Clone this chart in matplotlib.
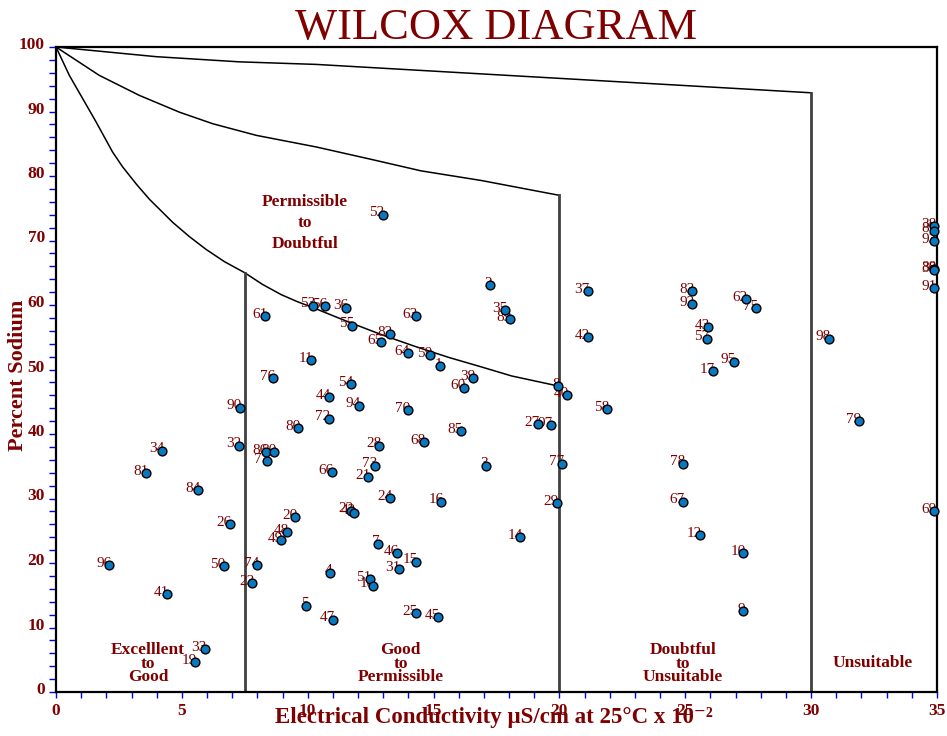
import matplotlib
matplotlib.use("Agg")
import matplotlib.pyplot as plt
import matplotlib.transforms as mtransforms
import numpy as np

# Sample ids, conductivity (uS/cm x 10^-2) and percent sodium
sample_ids = ["34", "81", "84", "26", "96", "50", "41", "33", "19", "32",
              "86", "80", "71", "20", "48", "49", "74", "23", "52", "53",
              "56", "36", "61", "63", "55", "82", "65", "11", "64", "59",
              "1", "39", "60", "76", "54", "44", "94", "90", "70", "72",
              "80", "85", "28", "68", "73", "66", "21", "24", "16", "22",
              "42", "7", "46", "15", "31", "4", "51", "18", "5", "47",
              "25", "45", "2", "35", "89", "37", "42", "8", "40", "58",
              "27", "97", "77", "29", "3", "14", "83", "92", "62", "75",
              "43", "57", "95", "17", "78", "67", "12", "10", "9", "38",
              "87", "93", "88", "30", "91", "98", "79", "69"]
conductivity = [4.22, 3.58, 5.65, 6.91, 2.12, 6.66, 4.40, 5.91, 5.52, 7.28,
                8.33, 8.67, 8.37, 9.50, 9.18, 8.93, 7.99, 7.79, 12.98, 10.20,
                10.70, 11.52, 8.32, 14.30, 11.77, 13.28, 12.90, 10.14, 13.98, 14.86,
                15.26, 16.57, 16.20, 8.63, 11.71, 10.83, 12.04, 7.31, 13.98, 10.83,
                9.63, 16.08, 12.84, 14.62, 12.66, 10.95, 12.41, 13.28, 15.31, 11.73,
                11.83, 12.78, 13.55, 14.30, 13.62, 10.90, 12.46, 12.59, 9.94, 11.02,
                14.30, 15.18, 17.25, 17.84, 18.03, 21.12, 21.12, 19.94, 20.30, 21.88,
                19.14, 19.67, 20.09, 19.90, 17.07, 18.45, 25.28, 25.28, 27.40, 27.80,
                25.90, 25.88, 26.92, 26.10, 24.91, 24.91, 25.59, 27.31, 27.31, 34.9,
                34.9, 34.9, 34.9, 34.9, 34.9, 30.70, 31.90, 34.9]
percent_na = [37.4, 33.9, 31.3, 26.0, 19.7, 19.5, 15.2, 6.6, 4.6, 38.2,
              37.2, 37.2, 35.8, 27.1, 24.8, 23.5, 19.7, 16.9, 74.0, 59.9,
              59.8, 59.6, 58.3, 58.3, 56.8, 55.5, 54.2, 51.4, 52.5, 52.2,
              50.5, 48.7, 47.2, 48.7, 47.7, 45.7, 44.4, 44.1, 43.7, 42.4,
              40.9, 40.4, 38.2, 38.7, 35.1, 34.1, 33.3, 30.1, 29.5, 28.1,
              27.8, 23.0, 21.5, 20.2, 19.0, 18.5, 17.5, 16.5, 13.4, 11.2,
              12.2, 11.6, 63.1, 59.2, 57.8, 62.1, 55.0, 47.4, 46.0, 43.9,
              41.5, 41.4, 35.4, 29.3, 35.1, 24.0, 62.1, 60.1, 60.9, 59.5,
              56.6, 54.8, 51.2, 49.7, 35.4, 29.5, 24.3, 21.5, 12.5, 72.2,
              71.5, 69.9, 65.6, 65.4, 62.6, 54.8, 42.0, 28.0]

# Class boundary curves
upper_x = [0, 3.98, 7.28, 10.34, 30]
upper_y = [100, 98.5, 97.7, 97.3, 92.9]
middle_x = [0, 1.72, 3.31, 4.9, 6.23, 7.96, 10.34, 12.5, 14.5, 16.9, 20]
middle_y = [100, 95.6, 92.5, 89.9, 88.1, 86.3, 84.5, 82.6, 80.8, 79.3, 77.0]
lower_x = [0, 0.53, 1.06, 1.59, 2.25, 2.65, 3.2, 3.71, 4.64, 5.3, 5.97, 6.7,
           7.5, 8.2, 8.95, 9.6, 10.27, 11.6, 12.93, 14.25, 15.58, 16.9, 18.1, 20]
lower_y = [100, 95.6, 92.0, 88.4, 83.7, 81.4, 78.7, 76.4, 72.8, 70.6, 68.6, 66.7,
           65.0, 63.2, 61.6, 60.5, 59.5, 57.4, 55.4, 53.6, 51.9, 50.4, 49.0, 47.4]

# Vertical class dividers: (x, top)
dividers = [(7.5, 65.0), (20, 77.0), (30, 92.9)]

DARKRED = "#7f0000"
SERIF = ["Liberation Serif", "DejaVu Serif"]

fig = plt.figure(figsize=(9.47, 7.36), dpi=100)
ax = fig.add_axes([56 / 947, 44 / 736, 881 / 947, 645 / 736])
ax.set_xlim(0, 35)
ax.set_ylim(0, 100)

ax.plot(upper_x, upper_y, color="black", lw=1.1, zorder=2)
ax.plot(middle_x, middle_y, color="black", lw=1.1, zorder=2)
ax.plot(lower_x, lower_y, color="black", lw=1.1, zorder=2)
for dx, top in dividers:
    ax.plot([dx, dx], [0, top], color="#404040", lw=2.0, zorder=2)

for sid, cx, cy in zip(sample_ids, conductivity, percent_na):
    ax.annotate(sid, (cx, cy), xytext=(1.5, -1.2), textcoords="offset points",
                ha="right", va="baseline", color=DARKRED, fontsize=11,
                family=SERIF, zorder=3, annotation_clip=False)
ax.scatter(conductivity, percent_na, s=40, marker="o", facecolor="#0a78c0",
           edgecolor="black", linewidth=1.0, zorder=4, clip_on=False)

region_kw = dict(color=DARKRED, fontsize=12.5, fontweight="bold", family=SERIF,
                 ha="center", va="center", zorder=3)
ax.text(3.65, 4.4, "Excelllent\nto\nGood", linespacing=0.78, **region_kw)
ax.text(13.7, 4.4, "Good\nto\nPermissible", linespacing=0.78, **region_kw)
ax.text(24.9, 4.4, "Doubtful\nto\nUnsuitable", linespacing=0.78, **region_kw)
ax.text(32.45, 4.5, "Unsuitable", **region_kw)
ax.text(9.9, 72.7, "Permissible\nto\nDoubtful", linespacing=1.4, **region_kw)

# Axes frame and ticks
for side in ["left", "bottom", "top", "right"]:
    ax.spines[side].set_color("black")
    ax.spines[side].set_linewidth(1.6)
ax.set_xticks(np.arange(0, 36, 5))
ax.set_xticks(np.arange(0, 36, 1), minor=True)
ax.set_yticks(np.arange(0, 101, 10))
ax.set_yticks(np.arange(0, 101, 2), minor=True)
ax.tick_params(which="both", direction="out", color="#0000ff", width=1.0)
ax.tick_params(axis="x", which="both", length=4, pad=4)
ax.tick_params(axis="y", which="both", length=5, pad=3)
for lab in ax.get_xticklabels() + ax.get_yticklabels():
    lab.set_family(SERIF)
    lab.set_fontweight("bold")
    lab.set_color(DARKRED)
    lab.set_fontsize(12.5)
lift = mtransforms.ScaledTranslation(0, 2 / 100, fig.dpi_scale_trans)
for lab in ax.get_yticklabels():
    lab.set_verticalalignment("center")
    lab.set_transform(lab.get_transform() + lift)

fig.text(0.524, 0.962, "WILCOX DIAGRAM", color=DARKRED, fontsize=32,
         family=SERIF, ha="center", va="center")
fig.text(0.019, 0.49, "Percent Sodium", color=DARKRED, fontsize=16,
         fontweight="bold", family=SERIF, rotation=90, ha="center", va="center")
fig.text(0.521, 0.0245, "Electrical Conductivity \u03bcS/cm at 25\u00b0C x 10\u207b\u00b2",
         color=DARKRED, fontsize=16.5, fontweight="bold", family=SERIF,
         ha="center", va="center")

fig.savefig("out.png", dpi=100)
